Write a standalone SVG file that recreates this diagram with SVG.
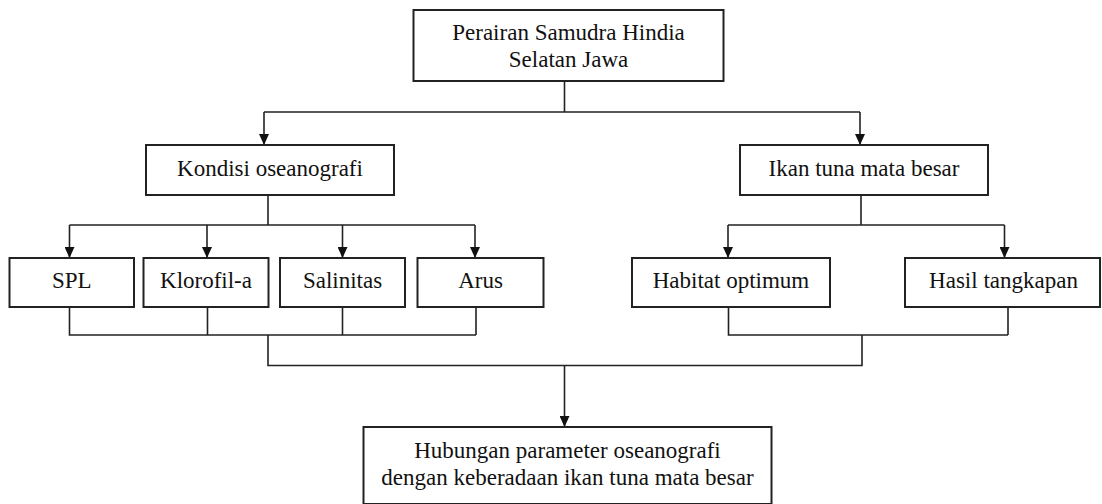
<svg xmlns="http://www.w3.org/2000/svg" width="1102" height="504" viewBox="0 0 1102 504">
<style>
.box{fill:#fff;stroke:#222;stroke-width:2}
.t{font-size:23px;fill:#111;text-anchor:middle}
.ln{fill:none;stroke:#222;stroke-width:1.6}
.ar{fill:none;stroke:#222;stroke-width:1.6;marker-end:url(#ah)}
</style>
<defs>
<marker id="ah" viewBox="0 0 11 10" refX="11" refY="5" markerWidth="11" markerHeight="10" markerUnits="userSpaceOnUse" orient="auto">
<path d="M0,0 L11,5 L0,10 z" fill="#111"/>
</marker>
</defs>
<rect width="1102" height="504" fill="#fff"/>
<g id="connectors">
<path class="ln" d="M564.5 81 V112 M264 112 H860"/>
<path class="ar" d="M264 112 V145"/>
<path class="ar" d="M860 112 V145"/>
<path class="ln" d="M268 195 V225 M69.5 225 H475"/>
<path class="ar" d="M69.5 225 V258"/>
<path class="ar" d="M207 225 V258"/>
<path class="ar" d="M342.5 225 V258"/>
<path class="ar" d="M475 225 V258"/>
<path class="ln" d="M861 195 V225 M728 225 H1004.5"/>
<path class="ar" d="M728 225 V258"/>
<path class="ar" d="M1004.5 225 V258"/>
<path class="ln" d="M69.5 307 V335 H476 M207.5 307 V335 M342.5 307 V335 M476 307 V335"/>
<path class="ln" d="M728.5 307 V335 H1008 M1008 307 V335"/>
<path class="ln" d="M268 335 V365.5 H862 V335"/>
<path class="ar" d="M564.5 365.5 V427"/>
</g>
<g font-family="Liberation Serif, Times New Roman, serif">
<g id="n-top">
<rect class="box" x="413.5" y="10" width="310" height="71"/>
<text class="t" x="568.5" y="40">Perairan Samudra Hindia</text>
<text class="t" x="568.5" y="66.5">Selatan Jawa</text>
</g>
<g id="n-kondisi">
<rect class="box" x="146" y="145" width="248" height="50"/>
<text class="t" x="270" y="176">Kondisi oseanografi</text>
</g>
<g id="n-ikan">
<rect class="box" x="740" y="145" width="248" height="50"/>
<text class="t" x="864" y="176">Ikan tuna mata besar</text>
</g>
<g id="n-spl">
<rect class="box" x="9.5" y="258" width="124.5" height="49"/>
<text class="t" x="71.7" y="288">SPL</text>
</g>
<g id="n-klorofil">
<rect class="box" x="143.5" y="258" width="125" height="49"/>
<text class="t" x="206" y="288">Klorofil-a</text>
</g>
<g id="n-salinitas">
<rect class="box" x="280" y="258" width="125" height="49"/>
<text class="t" x="342.5" y="288">Salinitas</text>
</g>
<g id="n-arus">
<rect class="box" x="417.5" y="258" width="126" height="49"/>
<text class="t" x="480.5" y="288">Arus</text>
</g>
<g id="n-habitat">
<rect class="box" x="632" y="258" width="198" height="49"/>
<text class="t" x="731" y="288">Habitat optimum</text>
</g>
<g id="n-hasil">
<rect class="box" x="905" y="258" width="195" height="49"/>
<text class="t" x="1003.5" y="288">Hasil tangkapan</text>
</g>
<g id="n-hubungan">
<rect class="box" x="363.5" y="427" width="408" height="77"/>
<text class="t" x="567.5" y="458">Hubungan parameter oseanografi</text>
<text class="t" x="567.5" y="484.5">dengan keberadaan ikan tuna mata besar</text>
</g>
</g>
</svg>
